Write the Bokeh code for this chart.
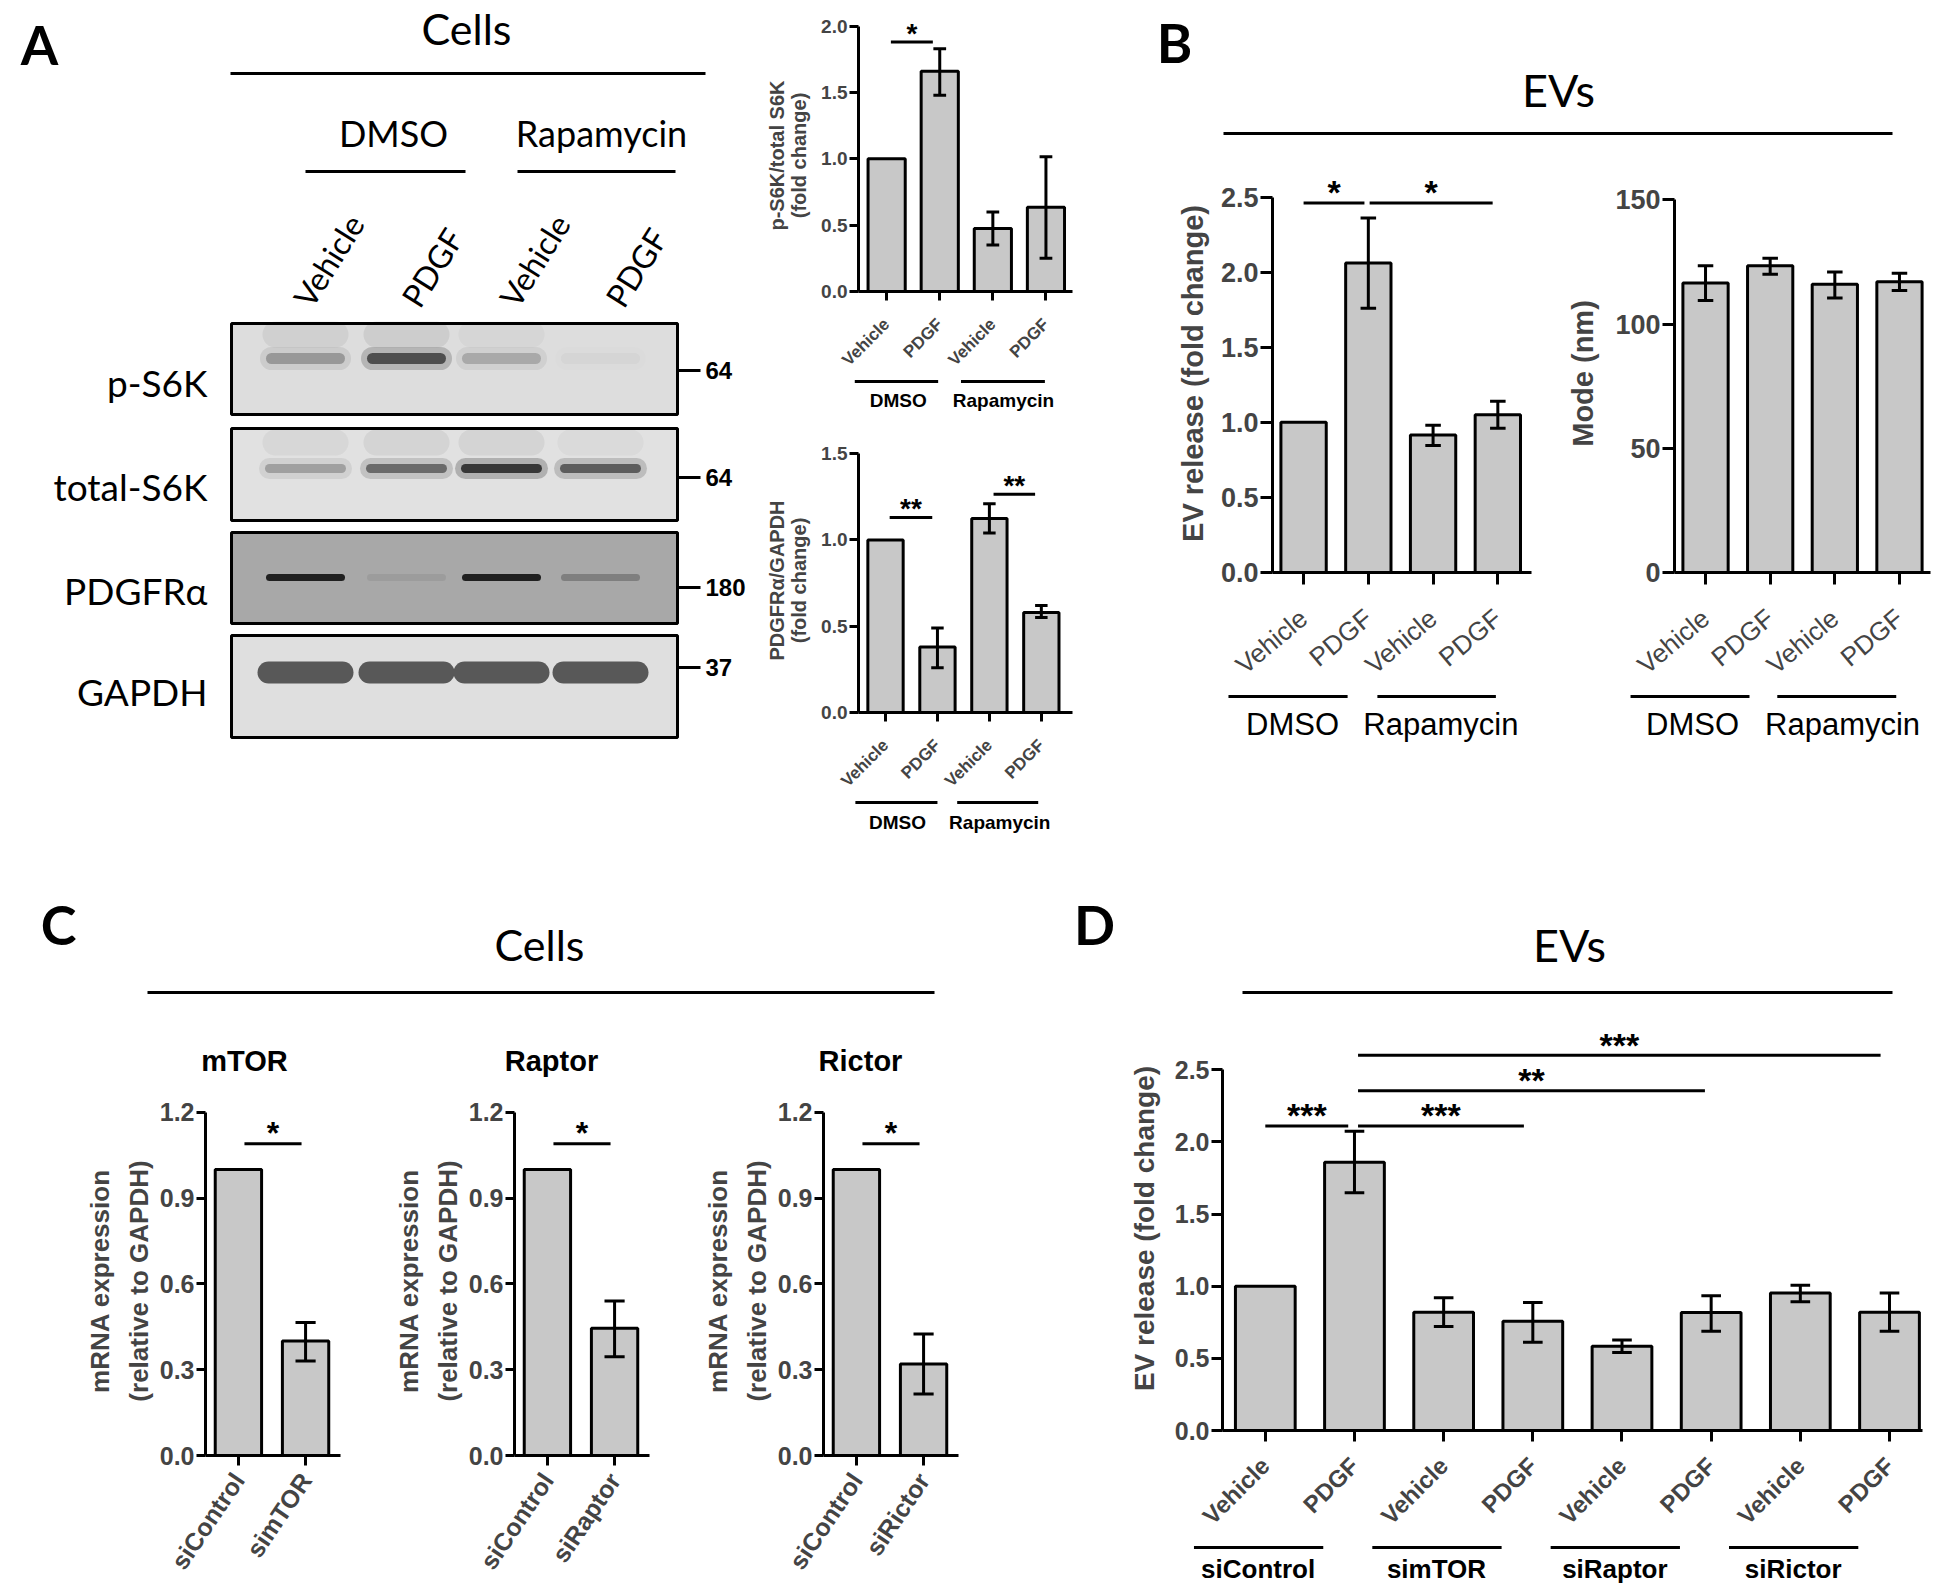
import math
from bokeh.plotting import figure
from bokeh.layouts import row, column
from bokeh.models import Range1d, FixedTicker, PrintfTickFormatter, Spacer
from bokeh.core.properties import value
from bokeh.embed import file_html
from bokeh.resources import INLINE

# ------------------------------------------------------------------ data
A_groups = ["DMSO", "Rapamycin"]
A_labels = ["Vehicle", "PDGF", "Vehicle", "PDGF"]
A1_vals = [1.0, 1.66, 0.475, 0.635]
A1_lo = [1.0, 1.48, 0.35, 0.25]
A1_hi = [1.0, 1.83, 0.60, 1.015]
A1_sig = [(0.08, 0.87, 1.88, "*")]
A2_vals = [1.0, 0.38, 1.125, 0.58]
A2_lo = [1.0, 0.26, 1.04, 0.55]
A2_hi = [1.0, 0.49, 1.21, 0.62]
A2_sig = [(0.08, 0.90, 1.13, "**"), (2.08, 2.88, 1.265, "**")]

blot_names = ["p-S6K", "total-S6K", "PDGFRα", "GAPDH"]
blot_kda = ["64", "64", "180", "37"]
band_intensity = [[0.30, 0.70, 0.22, 0.03],
                  [0.28, 0.55, 0.85, 0.62],
                  [0.92, 0.08, 0.92, 0.28],
                  [1.00, 1.00, 1.00, 1.00]]
smudge_intensity = [[0.07, 0.09, 0.04, 0.0],
                    [0.05, 0.07, 0.07, 0.04]]

B_labels = ["Vehicle", "PDGF", "Vehicle", "PDGF"]
B_groups = ["DMSO", "Rapamycin"]
B1_vals = [1.0, 2.06, 0.915, 1.05]
B1_lo = [1.0, 1.76, 0.845, 0.96]
B1_hi = [1.0, 2.36, 0.98, 1.14]
B1_sig = [(0.0, 0.94, 2.46, "*"), (1.02, 2.92, 2.46, "*")]
B2_vals = [116.5, 123.5, 116.0, 117.0]
B2_lo = [109.5, 120.0, 110.5, 113.5]
B2_hi = [123.5, 126.5, 121.0, 120.5]

C_titles = ["mTOR", "Raptor", "Rictor"]
C_labels = [["siControl", "simTOR"], ["siControl", "siRaptor"], ["siControl", "siRictor"]]
C_vals = [[1.0, 0.40], [1.0, 0.445], [1.0, 0.32]]
C_lo = [[1.0, 0.33], [1.0, 0.345], [1.0, 0.215]]
C_hi = [[1.0, 0.465], [1.0, 0.54], [1.0, 0.425]]
C_sig = [(0.09, 0.94, 1.09, "*")]

D_groups = ["siControl", "simTOR", "siRaptor", "siRictor"]
D_labels = ["Vehicle", "PDGF"] * 4
D_vals = [1.0, 1.86, 0.82, 0.757, 0.584, 0.818, 0.953, 0.82]
D_lo = [1.0, 1.648, 0.72, 0.612, 0.54, 0.688, 0.893, 0.688]
D_hi = [1.0, 2.074, 0.92, 0.887, 0.628, 0.934, 1.007, 0.953]
D_sig = [(0.0, 0.93, 2.11, "***"), (1.04, 2.9, 2.11, "***"),
         (1.04, 4.93, 2.355, "**"), (1.04, 6.9, 2.6, "***")]

# ------------------------------------------------------------------ style
BAR = "#c8c8c8"
SANS = "Liberation Sans"
HEAD = "Lato"


def txt(p, xs, ys, texts, size, font=HEAD, style="normal", align="center",
        baseline="middle", angle=0.0):
    p.text(x=list(xs), y=list(ys), text=list(texts), text_font=value(font),
           text_font_size=f"{size}px", text_font_style=style, text_align=align,
           text_baseline=baseline, angle=angle, text_color="black")


def seg(p, x0, y0, x1, y1, w=3):
    p.segment(x0=list(x0), y0=list(y0), x1=list(x1), y1=list(y1),
              line_color="black", line_width=w)


def deco(x0, x1, y0, y1):
    p = figure(width=x1 - x0, height=y1 - y0, x_range=Range1d(x0, x1),
               y_range=Range1d(y1, y0), x_axis_type=None, y_axis_type=None,
               output_backend="svg", toolbar_location=None, min_border=0)
    p.outline_line_color = None
    return p


def chart(w, h, mbl, mbr, mbt, mbb, xr, yr, vals, lo, hi, bar_w, cap, yticks,
          ybound, fmt, ylabel, y_fs, ylab_fs, ylab_standoff, ylab_lh,
          ytick_out, xtick_out, xlabels, x_fs, x_style, x_angle, x_standoff,
          sig=None, star_fs=28):
    p = figure(width=w, height=h, x_range=Range1d(*xr), y_range=Range1d(*yr),
               output_backend="svg", toolbar_location=None, min_border=0,
               min_border_left=mbl, min_border_right=mbr,
               min_border_top=mbt, min_border_bottom=mbb)
    p.outline_line_color = None
    p.xgrid.visible = False
    p.ygrid.visible = False
    n = len(vals)
    xs = list(range(n))
    p.vbar(x=xs, top=vals, bottom=0, width=bar_w, fill_color=BAR,
           line_color="black", line_width=3)
    ex = [i for i in xs if hi[i] > lo[i]]
    seg(p, ex, [lo[i] for i in ex], ex, [hi[i] for i in ex])
    for arr in (lo, hi):
        seg(p, [i - cap for i in ex], [arr[i] for i in ex],
            [i + cap for i in ex], [arr[i] for i in ex])
    if sig:
        ppu_y = (h - mbt - mbb) / (yr[1] - yr[0])
        lift = 0.32 * star_fs / ppu_y
        seg(p, [s[0] for s in sig], [s[2] for s in sig],
            [s[1] for s in sig], [s[2] for s in sig])
        txt(p, [(s[0] + s[1]) / 2 for s in sig], [s[2] + lift for s in sig],
            [s[3] for s in sig], star_fs, SANS, "bold", "center", "alphabetic")
    ya = p.yaxis[0]
    ya.ticker = FixedTicker(ticks=yticks)
    ya.bounds = (0, ybound)
    ya.formatter = PrintfTickFormatter(format=fmt)
    ya.axis_line_width = 3
    ya.major_tick_line_width = 3
    ya.major_tick_out = ytick_out
    ya.major_tick_in = 0
    ya.minor_tick_line_color = None
    ya.major_label_text_font = SANS
    ya.major_label_text_font_style = "bold"
    ya.major_label_text_font_size = f"{y_fs}px"
    ya.major_label_standoff = 2
    ya.axis_label = ylabel
    ya.axis_label_text_font = SANS
    ya.axis_label_text_font_style = "bold"
    ya.axis_label_text_font_size = f"{ylab_fs}px"
    ya.axis_label_standoff = ylab_standoff
    ya.axis_label_text_line_height = ylab_lh
    xa = p.xaxis[0]
    xa.ticker = FixedTicker(ticks=xs)
    xa.axis_line_width = 3
    xa.major_tick_line_width = 3
    xa.major_tick_out = xtick_out
    xa.major_tick_in = 0
    xa.minor_tick_line_color = None
    xa.major_label_overrides = {i: s for i, s in enumerate(xlabels)}
    xa.major_label_orientation = x_angle
    xa.major_label_text_font = SANS
    xa.major_label_text_font_style = x_style
    xa.major_label_text_font_size = f"{x_fs}px"
    xa.major_label_standoff = x_standoff
    return p


def strip(w, h, mbl, mbr, xr, groups, gstarts, gends, gcenters, line_y, label_y,
          gfs, gstyle):
    ppu = (w - mbl - mbr) / (xr[1] - xr[0])
    s = figure(width=w, height=h,
               x_range=Range1d(xr[0] - mbl / ppu, xr[1] + mbr / ppu),
               y_range=Range1d(h, 0), x_axis_type=None, y_axis_type=None,
               output_backend="svg", toolbar_location=None, min_border=0)
    s.outline_line_color = None
    seg(s, gstarts, [line_y] * len(gstarts), gends, [line_y] * len(gends))
    txt(s, gcenters, [label_y] * len(gcenters), groups, gfs, SANS, gstyle)
    return row(s)


# ------------------------------------------------------------------ panel A (blot)
fa = deco(8, 760, 0, 872)
txt(fa, [39], [44], ["A"], 54, HEAD, "bold")
txt(fa, [466], [28], ["Cells"], 43)
seg(fa, [230], [73], [705], [73])
txt(fa, [393, 601], [132, 132], A_groups, 36)
seg(fa, [305, 517], [171, 171], [465, 675], [171, 171])
lane_x = [305, 406, 501, 600]
lane_label_x = [301, 409, 507, 613]
txt(fa, lane_label_x, [303] * 4, A_labels, 32, HEAD, "normal", "left", "middle",
    math.radians(58))

box_top = [323, 428, 532, 635]
box_bot = [414, 520, 623, 737]
box_fill = ["#dddddd", "#e1e1e1", "#a8a8a8", "#dfdfdf"]
fa.quad(left=231, right=677, top=box_top, bottom=box_bot, fill_color=box_fill,
        line_color=None)
band_y = [358, 468, 577, 672]
band_half = [34, 36, 36, 37]
band_width = [11, 9, 7, 22]
band_color = ["#222222", "#222222", "#151515", "#585858"]
smudge_y = [334, 442]
for r in range(2):
    fa.segment(x0=[x - 30 for x in lane_x], y0=[smudge_y[r]] * 4,
               x1=[x + 30 for x in lane_x], y1=[smudge_y[r]] * 4,
               line_color="#303030", line_alpha=smudge_intensity[r],
               line_width=26, line_cap="round")
for r in range(4):
    if r < 2:
        fa.segment(x0=[x - band_half[r] for x in lane_x], y0=[band_y[r]] * 4,
                   x1=[x + band_half[r] for x in lane_x], y1=[band_y[r]] * 4,
                   line_color=band_color[r],
                   line_alpha=[a * 0.3 for a in band_intensity[r]],
                   line_width=band_width[r] + 12, line_cap="round")
    fa.segment(x0=[x - band_half[r] for x in lane_x], y0=[band_y[r]] * 4,
               x1=[x + band_half[r] for x in lane_x], y1=[band_y[r]] * 4,
               line_color=band_color[r], line_alpha=band_intensity[r],
               line_width=band_width[r], line_cap="round")
fa.quad(left=231, right=677, top=box_top, bottom=box_bot, fill_color=None,
        line_color="black", line_width=3)
txt(fa, [207] * 4, [382, 486, 590, 691], blot_names, 37, HEAD, "normal", "right")
mk_y = [370, 477, 587, 667]
seg(fa, [678] * 4, mk_y, [700] * 4, mk_y)
txt(fa, [705] * 4, mk_y, blot_kda, 24, SANS, "bold", "left")

# ------------------------------------------------------------------ panel A charts
a1 = chart(325, 379, 98, 13, 19, 86, (-0.53, 3.5), (0, 2.05), A1_vals, A1_lo, A1_hi,
           0.7, 0.12, [0, 0.5, 1.0, 1.5, 2.0], 2.0, "%.1f",
           "p-S6K/total S6K\n(fold change)", 19, 20, 8, 1.0, 9, 9,
           A_labels, 17, "bold", math.pi / 4, 21, A1_sig, 28)
a1s = strip(325, 47, 98, 13, (-0.53, 3.5), A_groups, [-0.6, 1.4], [0.97, 2.98],
            [0.22, 2.2], 2, 21, 19, "bold")
a2 = chart(325, 374, 98, 13, 22, 86, (-0.52, 3.6), (0, 1.53), A2_vals, A2_lo, A2_hi,
           0.68, 0.12, [0, 0.5, 1.0, 1.5], 1.5, "%.1f",
           "PDGFRα/GAPDH\n(fold change)", 19, 20, 8, 1.0, 9, 9,
           A_labels, 17, "bold", math.pi / 4, 21, A2_sig, 28)
a2s = strip(325, 72, 98, 13, (-0.52, 3.6), A_groups, [-0.58, 1.38], [1.0, 2.94],
            [0.23, 2.2], 2, 22, 19, "bold")

# ------------------------------------------------------------------ panel B
fbh = deco(1085, 1942, 0, 160)
txt(fbh, [1174], [42], ["B"], 54, HEAD, "bold")
txt(fbh, [1558], [89], ["EVs"], 45)
seg(fbh, [1223], [133], [1892], [133])

b1 = chart(475, 534, 187, 29, 14, 119, (-0.48, 3.52), (0, 2.65), B1_vals, B1_lo, B1_hi,
           0.7, 0.12, [0, 0.5, 1.0, 1.5, 2.0, 2.5], 2.5, "%.1f",
           "EV release (fold change)", 27, 29, 9, 1.2, 12, 12,
           B_labels, 26, "normal", math.radians(40), 30, B1_sig, 34)
b1s = strip(475, 178, 187, 29, (-0.48, 3.52), B_groups, [-1.16, 1.14], [0.68, 2.97],
            [-0.17, 2.12], 2, 30, 31, "normal")
b2 = chart(382, 534, 114, 12, 14, 119, (-0.48, 3.48), (0, 160.2), B2_vals, B2_lo, B2_hi,
           0.7, 0.12, [0, 50, 100, 150], 150, "%d",
           "Mode (nm)", 27, 29, 13, 1.2, 12, 12,
           B_labels, 26, "normal", math.radians(40), 30)
b2s = strip(382, 178, 114, 12, (-0.48, 3.48), B_groups, [-1.16, 1.11], [0.68, 2.95],
            [-0.2, 2.12], 2, 30, 31, "normal")

# ------------------------------------------------------------------ panel C
fch = deco(8, 1010, 872, 1085)
txt(fch, [58], [924], ["C"], 54, HEAD, "bold")
txt(fch, [539], [944], ["Cells"], 43)
seg(fch, [147], [992], [934], [992])
txt(fch, [244, 551, 860], [1060] * 3, C_titles, 29, SANS, "bold")

c_w = [344, 309, 309]
c_mbl = [197, 162, 162]
c_figs = []
for k in range(3):
    c_figs.append(chart(c_w[k], 502, c_mbl[k], 12, 21, 132, (-0.49, 1.52), (0, 1.22),
                        C_vals[k], C_lo[k], C_hi[k], 0.69, 0.15,
                        [0, 0.3, 0.6, 0.9, 1.2], 1.2, "%.1f",
                        "mRNA expression\n(relative to GAPDH)", 25, 26, 3, 1.3, 9, 10,
                        C_labels[k], 25, "bold", math.radians(56), 10,
                        C_sig, 32))

# ------------------------------------------------------------------ panel D
fdh = deco(1010, 1942, 872, 1010)
txt(fdh, [1094], [924], ["D"], 54, HEAD, "bold")
txt(fdh, [1569], [944], ["EVs"], 45)
seg(fdh, [1242], [992], [1892], [992])

d1 = chart(932, 532, 212, 20, 16, 111, (-0.48, 7.37), (0, 2.8), D_vals, D_lo, D_hi,
           0.67, 0.11, [0, 0.5, 1.0, 1.5, 2.0, 2.5], 2.5, "%.1f",
           "EV release (fold change)", 25, 28, 12, 1.2, 11, 11,
           D_labels, 24, "bold", math.pi / 4, 20, D_sig, 34)
d_starts = [2 * g - 0.8 for g in range(4)]
d_ends = [2 * g + 0.65 for g in range(4)]
d_centers = [2 * g - 0.08 for g in range(4)]
d1s = strip(932, 46, 212, 20, (-0.48, 7.37), D_groups, d_starts, d_ends, d_centers,
            5, 26, 26, "bold")

# ------------------------------------------------------------------ layout
top = row(fa, column(a1, a1s, a2, a2s),
          column(fbh, row(column(b1, b1s), column(b2, b2s))))
bottom = row(column(fch, row(c_figs[0], c_figs[1], c_figs[2], Spacer(width=40, height=502))),
             column(row(fdh), d1, d1s))
layout = row(Spacer(width=8, height=1587), column(top, bottom))

open("out.html", "w").write(file_html(layout, INLINE))
